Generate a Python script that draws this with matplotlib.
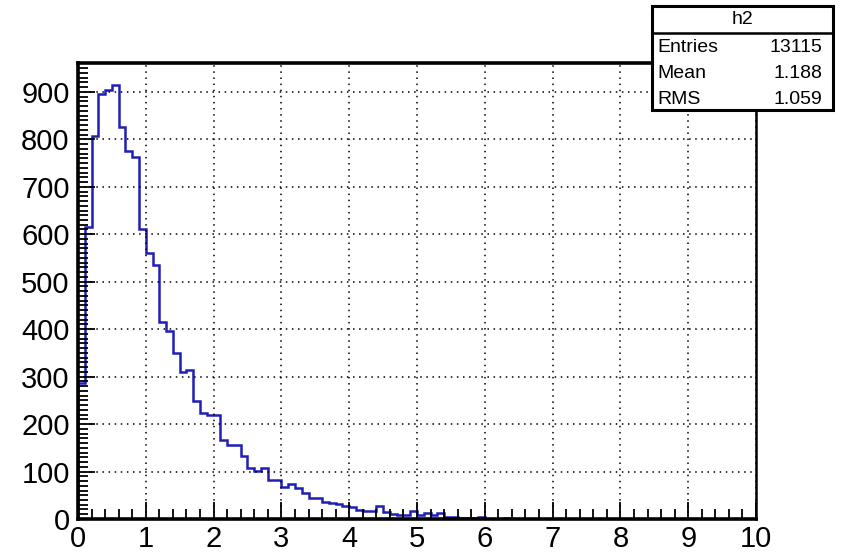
import numpy as np
import matplotlib
matplotlib.use('Agg')
import matplotlib.pyplot as plt
from matplotlib.patches import Rectangle
from matplotlib.lines import Line2D
from matplotlib.ticker import MultipleLocator

plt.rcParams['font.family'] = ['Liberation Sans', 'DejaVu Sans']

# histogram h2: 100 bins from 0 to 10
hname = 'h2'
xmin, xmax, nbins = 0.0, 10.0, 100
counts = [287, 615, 808, 896, 903, 915, 827, 776, 763, 611,
          560, 535, 415, 396, 350, 309, 313, 248, 224, 219,
          219, 167, 155, 155, 133, 108, 102, 108, 82, 82,
          68, 74, 65, 55, 44, 44, 36, 34, 32, 28,
          26, 19, 17, 17, 27, 14, 10, 8, 9, 16,
          8, 12, 8, 12, 5, 4, 2, 2, 2, 5,
          1, 1, 1, 3, 0, 1, 0, 0, 0, 0,
          0, 0, 0, 0, 0, 0, 0, 0, 0, 0,
          0, 0, 0, 0, 0, 0, 0, 0, 0, 0,
          0, 0, 0, 0, 0, 0, 0, 0, 0, 0]
stat_names = ['Entries', 'Mean', 'RMS']
stat_vals = ['13115', '1.188', '1.059']

edges = np.linspace(xmin, xmax, nbins + 1)

fig = plt.figure(figsize=(8.43, 5.53), dpi=100)
ax = fig.add_axes([0.0925, 0.0615, 0.8043, 0.8245])

ax.stairs(counts, edges, color='#1f1fb8', linewidth=1.8, baseline=0)
ax.set_xlim(xmin, xmax)
ax.set_ylim(0, max(counts) * 1.05)

ax.xaxis.set_major_locator(MultipleLocator(1))
ax.xaxis.set_minor_locator(MultipleLocator(0.2))
ax.yaxis.set_major_locator(MultipleLocator(100))
ax.yaxis.set_minor_locator(MultipleLocator(10))
ax.tick_params(which='both', direction='in', top=False, right=False,
               labelsize=21, width=1.3, color='black')
ax.tick_params(which='major', length=12, pad=4)
ax.tick_params(which='minor', length=7)
ax.tick_params(axis='y', pad=6)

ax.grid(True, which='major', linestyle=(0, (1, 3)), color='black', linewidth=1.1)
ax.set_axisbelow(False)
for side in ['left', 'bottom', 'top']:
    ax.spines[side].set_linewidth(2.6)
ax.spines['right'].set_linewidth(1.8)

# stats box
bx0, bx1 = 652 / 843, 833 / 843
by0, by1 = 1 - 110 / 553, 1 - 6 / 553
fig.add_artist(Rectangle((bx0, by0), bx1 - bx0, by1 - by0, transform=fig.transFigure,
                         facecolor='white', edgecolor='black', linewidth=2.2, zorder=10))
sep_y = 1 - 33 / 553
fig.add_artist(Line2D([bx0, bx1], [sep_y, sep_y], transform=fig.transFigure,
                      color='black', linewidth=1.8, zorder=11))
fig.text((bx0 + bx1) / 2, 1 - 20 / 553, hname, ha='center', va='center',
         fontsize=14, zorder=12)
row_y = [48, 74, 100]
for name, val, yy in zip(stat_names, stat_vals, row_y):
    fig.text(657 / 843, 1 - yy / 553, name, ha='left', va='center', fontsize=14, zorder=12)
    fig.text(822 / 843, 1 - yy / 553, val, ha='right', va='center', fontsize=14, zorder=12)

fig.savefig('out.png', dpi=100)
